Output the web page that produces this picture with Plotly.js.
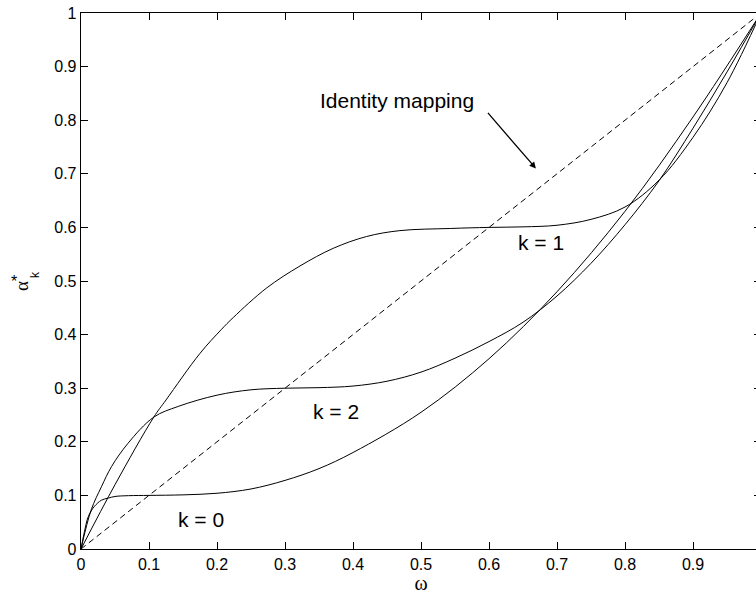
<!DOCTYPE html>
<html>
<head>
<meta charset="utf-8">
<script src="https://cdn.plot.ly/plotly-3.0.1.min.js"></script>
<style>
html, body { margin: 0; padding: 0; overflow: hidden; background: #fff; }
#chart { width: 770px; height: 597px; }
</style>
</head>
<body>
<div id="chart"></div>
<script>
// k = 0 curve (plateau at 0.1)
const omega_k0 = [0, 0.005, 0.01, 0.015, 0.02, 0.03, 0.04, 0.05, 0.07, 0.1, 0.15, 0.2, 0.25, 0.3, 0.35, 0.4, 0.5, 0.6, 0.7, 0.8, 0.9, 1];
const alpha_k0 = [0, 0.032, 0.058, 0.071, 0.08, 0.091, 0.095, 0.098, 0.0995, 0.1, 0.101, 0.104, 0.112, 0.128, 0.15, 0.18, 0.255, 0.355, 0.48, 0.63, 0.806, 1];

// k = 1 curve (plateau at 0.6)
const omega_k1 = [0, 0.05, 0.107, 0.125, 0.175, 0.206, 0.224, 0.273, 0.322, 0.371, 0.42, 0.469, 0.543, 0.6, 0.65, 0.7, 0.75, 0.8, 0.85, 0.9, 0.95, 1];
const alpha_k1 = [0, 0.12, 0.246, 0.278, 0.365, 0.409, 0.432, 0.487, 0.528, 0.561, 0.583, 0.594, 0.598, 0.6, 0.601, 0.604, 0.615, 0.638, 0.688, 0.768, 0.87, 1];

// k = 2 curve (plateau at 0.3)
const omega_k2 = [0, 0.015, 0.03, 0.045, 0.069, 0.107, 0.143, 0.2, 0.25, 0.3, 0.35, 0.4, 0.45, 0.5, 0.55, 0.6, 0.65, 0.7, 0.75, 0.8, 0.85, 0.9, 0.95, 1];
const alpha_k2 = [0, 0.073, 0.116, 0.154, 0.197, 0.246, 0.266, 0.287, 0.297, 0.3, 0.301, 0.304, 0.313, 0.33, 0.356, 0.387, 0.423, 0.472, 0.533, 0.605, 0.687, 0.785, 0.89, 1];

// identity mapping
const omega_id = [0, 1];
const alpha_id = [0, 1];

// tick values and labels
const tickVals = [0, 0.1, 0.2, 0.3, 0.4, 0.5, 0.6, 0.7, 0.8, 0.9, 1];
const xTickText = ['0', '0.1', '0.2', '0.3', '0.4', '0.5', '0.6', '0.7', '0.8', '0.9', ''];
const yTickText = ['0', '0.1', '0.2', '0.3', '0.4', '0.5', '0.6', '0.7', '0.8', '0.9', '1'];

const solid = {color: '#000', width: 1, shape: 'spline', smoothing: 1};
const traces = [
  {x: omega_k0, y: alpha_k0, mode: 'lines', line: solid, name: 'k = 0'},
  {x: omega_k1, y: alpha_k1, mode: 'lines', line: solid, name: 'k = 1'},
  {x: omega_k2, y: alpha_k2, mode: 'lines', line: solid, name: 'k = 2'},
  {x: omega_id, y: alpha_id, mode: 'lines', line: {color: '#000', width: 1, dash: '6px,4px'}, name: 'Identity mapping'}
];

const axisCommon = {
  range: [0, 1],
  tickmode: 'array',
  tickvals: tickVals,
  ticks: 'inside',
  ticklen: 7,
  tickwidth: 1,
  tickcolor: '#000',
  showline: true,
  linecolor: '#000',
  linewidth: 1.3,
  mirror: 'ticks',
  showgrid: false,
  zeroline: false,
  automargin: false,
  tickfont: {family: 'Liberation Sans, Arial, sans-serif', size: 16, color: '#000'}
};

const labelFont = {family: 'Liberation Sans, Arial, sans-serif', size: 21, color: '#000'};
// paper coordinates of the plot frame (left 81px, top 13px, 680 x 536 px)
const paperX = v => (v - 81) / 680;
const paperY = v => (549 - v) / 536;

const layout = {
  width: 770,
  height: 597,
  margin: {l: 81, r: 9, t: 13, b: 48},
  paper_bgcolor: '#fff',
  plot_bgcolor: '#fff',
  showlegend: false,
  xaxis: Object.assign({}, axisCommon, {
    ticktext: xTickText,
    title: {text: 'ω', font: {family: 'Liberation Serif, serif', size: 20, color: '#000'}, standoff: 4}
  }),
  yaxis: Object.assign({}, axisCommon, {
    ticktext: yTickText
  }),
  annotations: [
    {x: 0.465, y: 0.836, xref: 'x', yref: 'y', text: 'Identity mapping', showarrow: false,
     font: labelFont, xanchor: 'center', yanchor: 'middle'},
    {x: 0.669, y: 0.71, ax: 0.594, ay: 0.82, axref: 'x', ayref: 'y', xref: 'x', yref: 'y', text: ' ',
     showarrow: true, arrowhead: 2, arrowsize: 1, arrowwidth: 1.3, arrowcolor: '#000'},
    {x: 0.676, y: 0.572, xref: 'x', yref: 'y', text: 'k = 1', showarrow: false,
     font: labelFont, xanchor: 'center', yanchor: 'middle'},
    {x: 0.375, y: 0.2566, xref: 'x', yref: 'y', text: 'k = 2', showarrow: false,
     font: labelFont, xanchor: 'center', yanchor: 'middle'},
    {x: 0.176, y: 0.055, xref: 'x', yref: 'y', text: 'k = 0', showarrow: false,
     font: labelFont, xanchor: 'center', yanchor: 'middle'},
    // y-axis title: alpha with subscript k and superscript *
    {x: paperX(21.5), y: paperY(286.5), xref: 'paper', yref: 'paper', text: 'α', showarrow: false, textangle: -90,
     font: {family: 'Liberation Serif, serif', size: 19, color: '#000'}, xanchor: 'center', yanchor: 'middle'},
    {x: paperX(35), y: paperY(275), xref: 'paper', yref: 'paper', text: 'k', showarrow: false, textangle: -90,
     font: {family: 'Liberation Sans, Arial, sans-serif', size: 12, color: '#000'}, xanchor: 'center', yanchor: 'middle'},
    {x: paperX(13.5), y: paperY(281.5), xref: 'paper', yref: 'paper', text: '*', showarrow: false,
     font: {family: 'Liberation Sans, Arial, sans-serif', size: 16, color: '#000'}, xanchor: 'center', yanchor: 'middle'}
  ]
};

Plotly.newPlot('chart', traces, layout, {staticPlot: true, displayModeBar: false});
</script>
</body>
</html>
